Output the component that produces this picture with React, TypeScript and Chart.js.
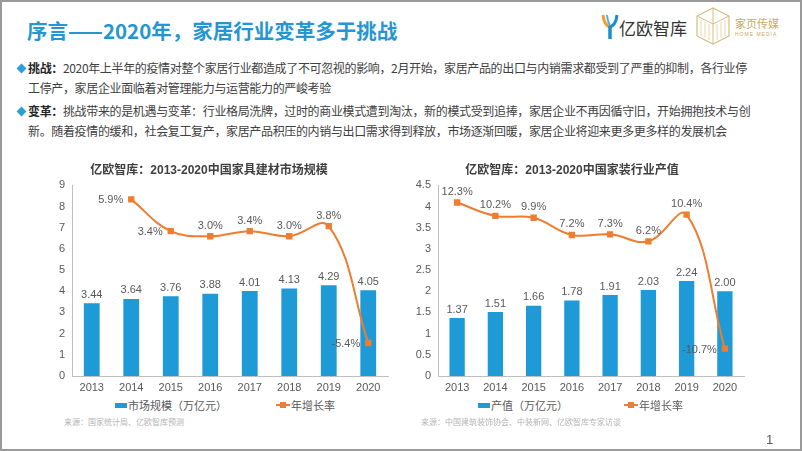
import React, { useEffect, useRef } from "react";
import { Chart, registerables } from "chart.js";
Chart.register(...registerables);

const years = ["2013", "2014", "2015", "2016", "2017", "2018", "2019", "2020"];
const marketSize = [3.44, 3.64, 3.76, 3.88, 4.01, 4.13, 4.29, 4.05];
const marketGrowth = [null, 5.9, 3.4, 3.0, 3.4, 3.0, 3.8, -5.4];
const decoOutput = [1.37, 1.51, 1.66, 1.78, 1.91, 2.03, 2.24, 2.0];
const decoGrowth = [12.3, 10.2, 9.9, 7.2, 7.3, 6.2, 10.4, -10.7];

const leftTitle = "亿欧智库：2013-2020中国家具建材市场规模";
const rightTitle = "亿欧智库：2013-2020中国家装行业产值";
const leftBarName = "市场规模（万亿元）";
const rightBarName = "产值（万亿元）";
const lineName = "年增长率";
const leftSource = "来源：国家统计局、亿欧智库预测";
const rightSource = "来源：中国建筑装饰协会、中装新网、亿欧智库专家访谈";

const BLUE = "#1e9ad6";
const ORANGE = "#ed7d31";
const FONT = "'Liberation Sans', 'Noto Sans CJK SC', sans-serif";
const CJK = "'Noto Sans CJK SC', 'Liberation Sans', sans-serif";

const labelPlugin = {
  id: "valueLabels",
  afterDatasetsDraw(chart: any, _args: any, opts: any) {
    const ctx = chart.ctx;
    ctx.save();
    ctx.font = "11px " + FONT;
    ctx.fillStyle = "#595959";
    chart.data.datasets.forEach((ds: any, di: number) => {
      const meta = chart.getDatasetMeta(di);
      meta.data.forEach((el: any, i: number) => {
        const v = ds.data[i];
        if (v == null) return;
        if (ds.type === "bar") {
          ctx.textAlign = "center";
          ctx.textBaseline = "bottom";
          ctx.fillText(v.toFixed(2), el.x, el.y - 3);
        } else {
          const txt = v.toFixed(1) + "%";
          if (opts.linePos[i] === "left") {
            ctx.textAlign = "right";
            ctx.textBaseline = "middle";
            ctx.fillText(txt, el.x - 8, el.y + 1);
          } else {
            ctx.textAlign = "center";
            ctx.textBaseline = "bottom";
            ctx.fillText(txt, el.x, el.y - 5);
          }
        }
      });
    });
    ctx.restore();
  },
};

function makeConfig(p: any) {
  return {
    type: "bar",
    data: {
      labels: years,
      datasets: [
        {
          type: "line",
          label: lineName,
          data: p.growth,
          yAxisID: "y1",
          borderColor: ORANGE,
          borderWidth: 2,
          tension: 0.4,
          pointStyle: "rect",
          pointRadius: 4.5,
          pointBorderWidth: 0,
          pointBackgroundColor: ORANGE,
          order: 0,
        },
        {
          type: "bar",
          label: p.barName,
          data: p.bars,
          yAxisID: "y",
          backgroundColor: BLUE,
          categoryPercentage: 1,
          barPercentage: 0.4,
          order: 1,
        },
      ],
    },
    options: {
      responsive: false,
      animation: false,
      layout: { padding: { left: 0, right: p.padRight, top: 0, bottom: 0 } },
      plugins: {
        legend: { display: false },
        tooltip: { enabled: false },
        title: {
          display: true,
          text: p.title,
          color: "#404040",
          font: { size: 12, weight: "bold", family: FONT },
          padding: { top: 8, bottom: 8 },
        },
        valueLabels: { linePos: p.linePos },
      },
      scales: {
        x: {
          grid: { display: false, drawTicks: false },
          border: { display: true, color: "#bfbfbf", width: 1 },
          ticks: { color: "#595959", font: { size: 11, family: FONT }, padding: 5 },
          afterFit: (s: any) => {
            s.height = 20;
          },
        },
        y: {
          min: 0,
          max: p.yMax,
          grid: { display: false, drawTicks: false },
          border: { display: true, color: "#bfbfbf", width: 1 },
          ticks: {
            stepSize: p.yStep,
            color: "#595959",
            font: { size: 11, family: FONT },
            padding: 7,
            callback: (v: any) => String(v),
          },
          afterFit: (s: any) => {
            s.width = p.yWidth;
          },
        },
        y1: {
          display: false,
          min: p.y1Min,
          max: p.y1Max,
        },
      },
    },
    plugins: [labelPlugin],
  };
}

function ChartCanvas(props: { cfg: any; left: number; top: number; width: number; height: number }) {
  const ref = useRef<HTMLCanvasElement>(null);
  useEffect(() => {
    const chart = new Chart(ref.current as HTMLCanvasElement, props.cfg as any);
    return () => chart.destroy();
  }, []);
  return (
    <canvas
      ref={ref}
      width={props.width}
      height={props.height}
      style={{ position: "absolute", left: props.left, top: props.top, width: props.width, height: props.height }}
    />
  );
}

function LegendItem({ kind, x, y, text }: { kind: string; x: number; y: number; text: string }) {
  return (
    <div style={{ position: "absolute", left: x, top: y - 8, height: 16, display: "flex", alignItems: "center", whiteSpace: "nowrap" }}>
      {kind === "bar" ? (
        <span style={{ display: "inline-block", width: 12, height: 5, background: BLUE, marginRight: 1 }} />
      ) : (
        <span style={{ position: "relative", display: "inline-block", width: 14, height: 6, marginRight: 1 }}>
          <span style={{ position: "absolute", left: 0, top: 2, width: 14, height: 2, background: ORANGE }} />
          <span style={{ position: "absolute", left: 4, top: 0, width: 6, height: 6, background: ORANGE }} />
        </span>
      )}
      <span style={{ font: "11px " + CJK, color: "#595959" }}>{text}</span>
    </div>
  );
}

const bodyText: React.CSSProperties = {
  position: "absolute",
  left: 28,
  font: "12px " + CJK,
  lineHeight: "16px",
  letterSpacing: "-0.35px",
  color: "#404040",
  whiteSpace: "nowrap",
};

function Diamond({ y }: { y: number }) {
  return (
    <div
      style={{
        position: "absolute",
        left: 18,
        top: y - 3.5,
        width: 7,
        height: 7,
        background: "#2a9fd8",
        transform: "rotate(45deg)",
      }}
    />
  );
}

export default function App() {
  const leftCfg = makeConfig({
    title: leftTitle,
    bars: marketSize,
    growth: marketGrowth,
    barName: leftBarName,
    yMax: 9,
    yStep: 1,
    y1Min: -8,
    y1Max: 7,
    yWidth: 42,
    padRight: 28,
    linePos: ["top", "left", "left", "top", "top", "top", "top", "left"],
  });
  const rightCfg = makeConfig({
    title: rightTitle,
    bars: decoOutput,
    growth: decoGrowth,
    barName: rightBarName,
    yMax: 4.5,
    yStep: 0.5,
    y1Min: -15,
    y1Max: 15,
    yWidth: 38,
    padRight: 12,
    linePos: ["top", "top", "top", "top", "top", "top", "top", "left"],
  });

  return (
    <div style={{ position: "fixed", left: 0, top: 0, width: 802, height: 451, background: "#fff", overflow: "hidden" }}>
      {/* title */}
      <div
        style={{
          position: "absolute",
          left: 27,
          top: 17,
          font: "bold 20.5px " + CJK,
          lineHeight: "26px",
          color: "#2596d1",
          whiteSpace: "nowrap",
        }}
      >
        序言——2020年，家居行业变革多于挑战
      </div>

      {/* logos */}
      <svg style={{ position: "absolute", left: 600, top: 12 }} width={20} height={30} viewBox="0 0 20 30">
        <path d="M3 3 Q4 13 10 15" stroke="#f39c32" strokeWidth={3} fill="none" />
        <path d="M7 3 Q8 11 10 13" stroke="#3fb5e5" strokeWidth={2} fill="none" />
        <path d="M17 3 Q16 13 10 15" stroke="#1a8fd0" strokeWidth={3} fill="none" />
        <path d="M10 14 L10 27" stroke="#1a8fd0" strokeWidth={3.5} fill="none" />
      </svg>
      <div style={{ position: "absolute", left: 619, top: 17, font: "17px " + CJK, lineHeight: "22px", color: "#333", whiteSpace: "nowrap" }}>
        亿欧智库
      </div>
      <svg style={{ position: "absolute", left: 694, top: 6 }} width={38} height={40} viewBox="0 0 38 40">
        <path d="M19 2 L35 10 L35 30 L19 38 L3 30 L3 10 Z" stroke="#d8bd80" strokeWidth={1.2} fill="none" />
        <path d="M19 2 L19 38 M3 10 L19 18 L35 10" stroke="#d8bd80" strokeWidth={1} fill="none" />
        <path d="M7 14 L7 30 M11 16 L11 32 M15 18 L15 34 M23 18 L23 34 M27 16 L27 32 M31 14 L31 30" stroke="#e2cc98" strokeWidth={0.8} fill="none" />
      </svg>
      <div style={{ position: "absolute", left: 735, top: 15, font: "11px " + CJK, lineHeight: "16px", color: "#c9a962", whiteSpace: "nowrap" }}>
        家页传媒
      </div>
      <div style={{ position: "absolute", left: 735, top: 31, font: "5px " + FONT, lineHeight: "6px", letterSpacing: "1px", color: "#c9a962", whiteSpace: "nowrap" }}>
        HOME MEDIA
      </div>

      {/* bullets */}
      <Diamond y={68} />
      <div style={{ ...bodyText, top: 60 }}>
        <b style={{ color: "#262626" }}>挑战：</b>2020年上半年的疫情对整个家居行业都造成了不可忽视的影响，2月开始，家居产品的出口与内销需求都受到了严重的抑制，各行业停
      </div>
      <div style={{ ...bodyText, top: 80 }}>工停产，家居企业面临着对管理能力与运营能力的严峻考验</div>
      <Diamond y={111} />
      <div style={{ ...bodyText, top: 103 }}>
        <b style={{ color: "#262626" }}>变革：</b>挑战带来的是机遇与变革：行业格局洗牌，过时的商业模式遭到淘汰，新的模式受到追捧，家居企业不再因循守旧，开始拥抱技术与创
      </div>
      <div style={{ ...bodyText, top: 123 }}>
        新。随着疫情的缓和，社会复工复产，家居产品积压的内销与出口需求得到释放，市场逐渐回暖，家居企业将迎来更多更多样的发展机会
      </div>

      {/* charts */}
      <ChartCanvas cfg={leftCfg} left={30} top={155} width={386} height={241} />
      <ChartCanvas cfg={rightCfg} left={400} top={155} width={356} height={241} />

      {/* legends */}
      <LegendItem kind="bar" x={115} y={405} text={leftBarName} />
      <LegendItem kind="line" x={276} y={405} text={lineName} />
      <LegendItem kind="bar" x={478} y={405} text={rightBarName} />
      <LegendItem kind="line" x={624} y={405} text={lineName} />

      {/* sources */}
      <div style={{ position: "absolute", left: 64, top: 417, font: "8px " + CJK, lineHeight: "10px", color: "#b3b3b3", whiteSpace: "nowrap" }}>
        {leftSource}
      </div>
      <div style={{ position: "absolute", left: 421, top: 417, font: "8px " + CJK, lineHeight: "10px", color: "#b3b3b3", whiteSpace: "nowrap" }}>
        {rightSource}
      </div>

      {/* page number */}
      <div style={{ position: "absolute", left: 766, top: 432, font: "13px " + FONT, lineHeight: "16px", color: "#595959" }}>1</div>

      {/* frame */}
      <div
        style={{
          position: "absolute",
          left: 0,
          top: 0,
          width: 802,
          height: 451,
          boxSizing: "border-box",
          border: "2px solid #9a9a9a",
          pointerEvents: "none",
        }}
      />
    </div>
  );
}
